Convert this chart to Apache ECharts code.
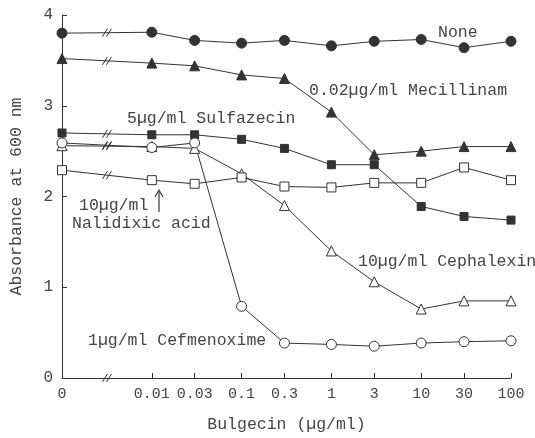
<!DOCTYPE html>
<html>
<head>
<meta charset="utf-8">
<script src="https://cdn.jsdelivr.net/npm/echarts@6/dist/echarts.min.js"></script>
<style>
  html, body { margin: 0; padding: 0; background: #fff; }
  #chart { width: 535px; height: 438px; }
</style>
</head>
<body>
<div id="chart"></div>
<script>
// Bulgecin concentrations (µg/ml); 0 is drawn left of an axis break
const concentrations = [0, 0.01, 0.03, 0.1, 0.3, 1, 3, 10, 30, 100];
const tickLabels = ["0", "0.01", "0.03", "0.1", "0.3", "1", "3", "10", "30", "100"];
const yTicks = [0, 1, 2, 3, 4];

// absorbance at 600 nm
const none = [3.80, 3.81, 3.72, 3.69, 3.72, 3.66, 3.71, 3.73, 3.64, 3.71];
const mecillinam = [3.52, 3.47, 3.44, 3.34, 3.30, 2.93, 2.46, 2.50, 2.55, 2.55];
const sulfazecin = [2.70, 2.68, 2.68, 2.63, 2.53, 2.35, 2.35, 1.89, 1.78, 1.74];
const cefmenoxime = [2.59, 2.54, 2.59, 0.79, 0.385, 0.37, 0.35, 0.385, 0.40, 0.41];
const cephalexin = [2.56, 2.55, 2.53, 2.25, 1.90, 1.40, 1.06, 0.76, 0.85, 0.85];
const nalidixic = [2.29, 2.18, 2.14, 2.21, 2.11, 2.10, 2.15, 2.15, 2.32, 2.18];

const INK = "#333";
const FONT = "'Liberation Mono', 'DejaVu Sans Mono', monospace";
const BREAK_X = -0.5;

// position on the axis: log decades, the zero point sits one decade before 0.01
function pos(v) {
  return v === 0 ? -1 : Math.log10(v) + 2;
}
const positions = concentrations.map(pos);

function lineSeries(name, values, symbol, filled, size) {
  return {
    name: name,
    type: "line",
    data: values.map((v, i) => [positions[i], v]),
    symbol: symbol,
    symbolSize: size,
    showAllSymbol: true,
    lineStyle: { color: INK, width: 1 },
    itemStyle: {
      color: filled ? INK : "#fff",
      borderColor: INK,
      borderWidth: 1,
    },
    z: 3,
    animation: false,
  };
}

// the "//" break marks, put halfway between the 0 and 0.01 points
const allSeries = [none, mecillinam, sulfazecin, cefmenoxime, cephalexin, nalidixic];
const breakData = allSeries.map((s) => [BREAK_X, (s[0] + s[1]) / 2]);
breakData.push([BREAK_X, 0]);

const chart = echarts.init(document.getElementById("chart"));
const option = {
  animation: false,
  backgroundColor: "#fff",
  grid: { left: 58, right: 24, top: 15, bottom: 56 },
  xAxis: {
    type: "value",
    min: -1,
    max: 4,
    name: "Bulgecin (µg/ml)",
    nameLocation: "middle",
    nameGap: 38,
    nameTextStyle: { fontFamily: FONT, fontSize: 16.5, color: "#444" },
    axisLine: { show: true, lineStyle: { color: INK, width: 1 } },
    axisTick: {
      show: true,
      inside: true,
      length: 5,
      customValues: positions.slice(1),
      lineStyle: { color: INK },
    },
    axisLabel: {
      customValues: positions,
      formatter: (v) => {
        const i = positions.findIndex((p) => Math.abs(p - v) < 1e-6);
        return i >= 0 ? tickLabels[i] : "";
      },
      margin: 9,
      fontFamily: FONT,
      fontSize: 15,
      color: "#444",
    },
    splitLine: { show: false },
  },
  yAxis: {
    type: "value",
    min: 0,
    max: 4,
    interval: 1,
    name: "Absorbance at 600 nm",
    nameLocation: "middle",
    nameRotate: 90,
    nameGap: 37,
    nameTextStyle: { fontFamily: FONT, fontSize: 16.5, color: "#444" },
    axisLine: { show: true, onZero: false, lineStyle: { color: INK, width: 1 } },
    axisTick: { show: true, inside: true, length: 5, lineStyle: { color: INK } },
    axisLabel: {
      formatter: (v) => (yTicks.indexOf(v) >= 0 ? String(v) : ""),
      margin: 9,
      fontFamily: FONT,
      fontSize: 16,
      color: "#444",
    },
    splitLine: { show: false },
  },
  series: [
    lineSeries("None", none, "circle", true, 10),
    lineSeries("Mecillinam", mecillinam, "triangle", true, 10),
    lineSeries("Sulfazecin", sulfazecin, "rect", true, 8),
    lineSeries("Cephalexin", cephalexin, "triangle", false, 10),
    lineSeries("Cefmenoxime", cefmenoxime, "circle", false, 10),
    lineSeries("Nalidixic acid", nalidixic, "rect", false, 9),
    {
      name: "breaks",
      type: "custom",
      data: breakData,
      clip: false,
      z: 4,
      renderItem: function (params, api) {
        const p = api.coord([api.value(0), api.value(1)]);
        const mk = (dx) => ({
          type: "line",
          shape: { x1: p[0] + dx - 2.5, y1: p[1] + 4, x2: p[0] + dx + 2.5, y2: p[1] - 4 },
          style: { stroke: INK, lineWidth: 1 },
        });
        return { type: "group", children: [mk(-2), mk(2)] };
      },
      animation: false,
    },
  ],
  graphic: [
    { text: "None", x: 438, y: 24 },
    { text: "0.02µg/ml Mecillinam", x: 309, y: 82 },
    { text: "5µg/ml Sulfazecin", x: 127, y: 110 },
    { text: "10µg/ml", x: 79, y: 197 },
    { text: "Nalidixic acid", x: 72, y: 215 },
    { text: "10µg/ml Cephalexin", x: 358, y: 253 },
    { text: "1µg/ml Cefmenoxime", x: 88, y: 332 },
  ].map((t) => ({
    type: "text",
    left: t.x,
    top: t.y,
    style: { text: t.text, font: "16.5px " + FONT, fill: "#444" },
    z: 10,
  })).concat([
    {
      // the arrow under the Nalidixic acid label
      type: "group",
      z: 10,
      children: [
        { type: "line", shape: { x1: 159, y1: 191, x2: 159, y2: 212 }, style: { stroke: "#444", lineWidth: 1.3 } },
        { type: "polyline", shape: { points: [[155, 197], [159, 190], [163, 197]] }, style: { stroke: "#444", lineWidth: 1.3, fill: null } },
      ],
    },
  ]),
};
chart.setOption(option);
</script>
</body>
</html>
